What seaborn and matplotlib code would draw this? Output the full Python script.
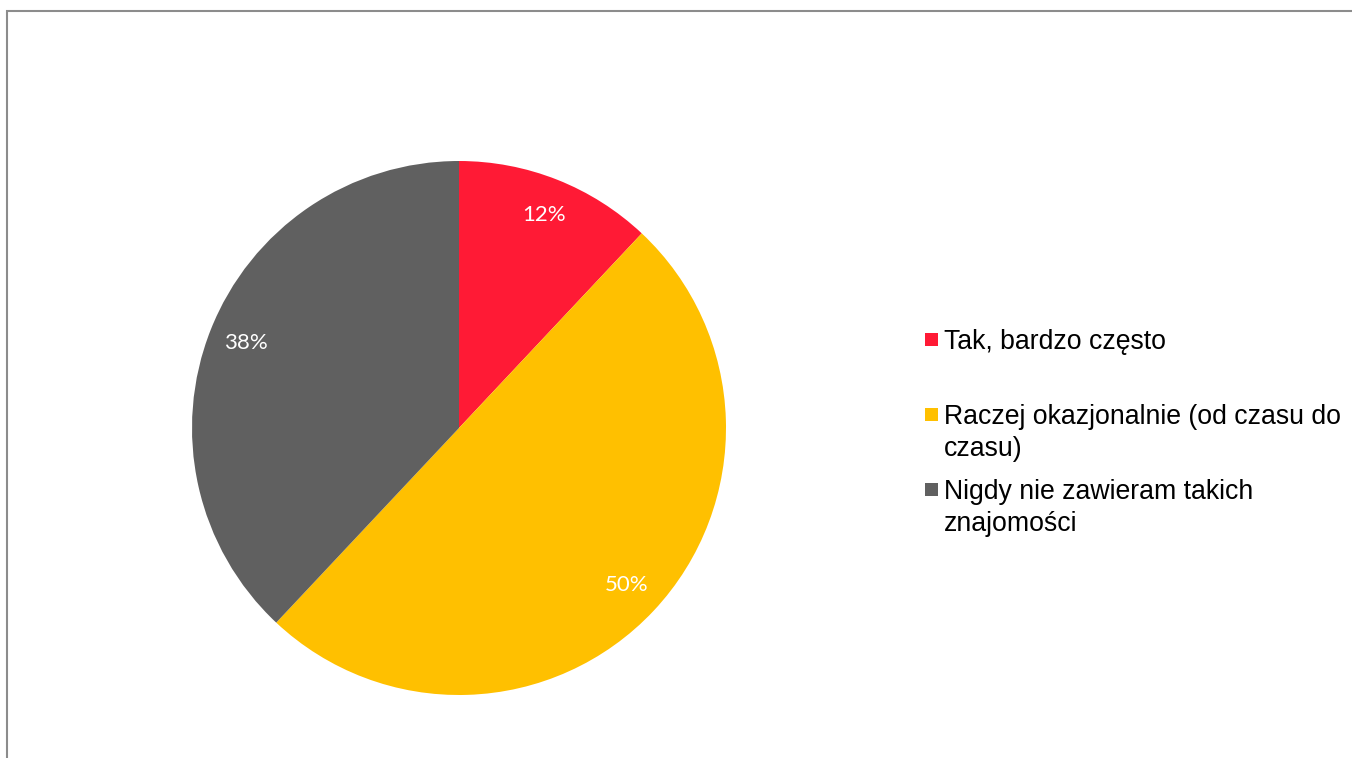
import matplotlib.pyplot as plt
import seaborn as sns
from matplotlib.patches import Rectangle

# Data
labels = ['Tak, bardzo często',
          'Raczej okazjonalnie (od czasu do\nczasu)',
          'Nigdy nie zawieram takich\nznajomości']
shares = [12, 50, 38]
colors = ['#FF1A35', '#FFC000', '#606060']

sns.set_theme(style='white')
plt.rcParams['font.family'] = ['Liberation Sans', 'DejaVu Sans']

W, H = 1352, 758
fig = plt.figure(figsize=(W / 100, H / 100), dpi=100)
fig.patch.set_facecolor('white')

# chart area border (left and top visible)
fig.add_artist(Rectangle((6.5 / W, -0.1), 2, (H - 11) / H + 0.1,
                         transform=fig.transFigure, fill=False,
                         edgecolor='#8c8c8c', linewidth=1.5))

# pie axes: centre (459, 428), radius 267 px
cx, cy, r = 459, 428, 267
ax = fig.add_axes([(cx - r) / W, (H - cy - r) / H, 2 * r / W, 2 * r / H])
wedges, _, autotexts = ax.pie(shares, colors=colors, startangle=90, counterclock=False,
                              autopct='%d%%', pctdistance=0.86, radius=1,
                              wedgeprops=dict(linewidth=0))
for t in autotexts:
    t.set_color('white')
    t.set_fontsize(16)
    t.set_family(['Lato', 'DejaVu Sans'])
ax.set_xlim(-1, 1)
ax.set_ylim(-1, 1)
ax.set_aspect('equal')
ax.axis('off')

# legend drawn manually to match Excel layout
base0 = 349
step = 75
for i, (lab, col) in enumerate(zip(labels, colors)):
    yb = base0 + i * step
    fig.add_artist(Rectangle((925 / W, (H - yb + 3) / H), 13 / W, 13 / H,
                             transform=fig.transFigure, facecolor=col,
                             edgecolor='none'))
    fig.text(944 / W, (H - yb + 20) / H, lab, fontsize=19.2, va='top', ha='left',
             color='black', linespacing=1.32)

plt.savefig('out.png', dpi=100)
